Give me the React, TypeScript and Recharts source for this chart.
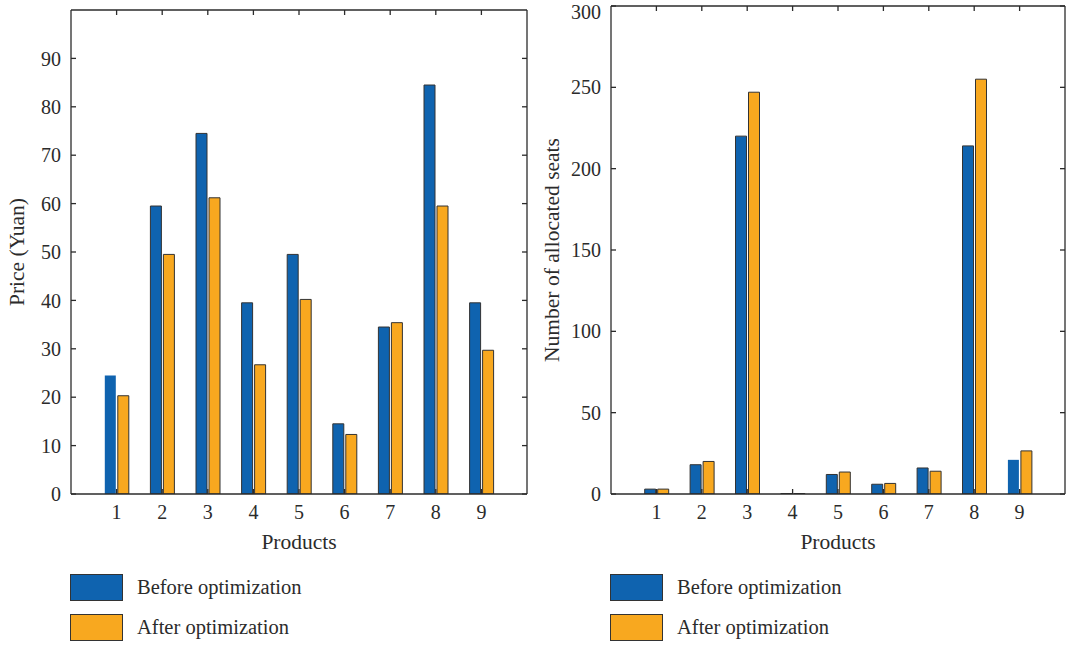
import { BarChart, Bar, XAxis, YAxis, Cell } from "recharts";

const products = ["1", "2", "3", "4", "5", "6", "7", "8", "9"];
const priceBefore = [24.5, 59.5, 74.5, 39.5, 49.5, 14.5, 34.5, 84.5, 39.5];
const priceAfter = [20.3, 49.5, 61.2, 26.7, 40.2, 12.3, 35.4, 59.5, 29.7];
const seatsBefore = [3, 18, 220, 0.3, 12, 6, 16, 214, 21];
const seatsAfter = [3, 20, 247, 0.3, 13.5, 6.5, 14, 255, 26.5];
const priceTicks = [0, 10, 20, 30, 40, 50, 60, 70, 80, 90];
const seatTicks = [0, 50, 100, 150, 200, 250, 300];

const BLUE = "#0F63AF";
const ORANGE = "#F8A81F";
const INK = "#2b2b2b";
const FONT = "Liberation Serif, Times New Roman, DejaVu Serif, serif";
const TICK = { fill: INK, fontSize: 20, fontFamily: FONT };
const blank = () => "";

type PanelProps = {
  left: number; width: number; height: number;
  yWidth: number; plotTop: number; plotRight: number;
  before: number[]; after: number[]; ticks: number[]; yMax: number;
  yLabel: string; yLabelOffset: number; noStroke: number;
};

function Panel(p: PanelProps) {
  const data = products.map((name, i) => ({ name, before: p.before[i], after: p.after[i] }));
  const plotW = p.width - p.yWidth - p.plotRight;
  const pad = plotW / 20;
  return (
    <div style={{ position: "absolute", left: p.left, top: 0 }}>
      <BarChart width={p.width} height={p.height} data={data} barSize={11} barGap={2}
        margin={{ top: p.plotTop - 1, right: p.plotRight - 1, bottom: 6, left: 0 }}>
        <XAxis xAxisId="b" dataKey="name" height={60} padding={{ left: pad, right: pad }}
          stroke={INK} strokeWidth={1.3} tick={TICK} tickSize={-5} tickMargin={16}
          label={{ value: "Products", position: "insideBottom", offset: 5, fill: INK, fontSize: 21.5, fontFamily: FONT }} />
        <XAxis xAxisId="t" dataKey="name" orientation="top" height={1} padding={{ left: pad, right: pad }}
          stroke={INK} strokeWidth={1.3} tickSize={-5} tickFormatter={blank} />
        <YAxis yAxisId="l" width={p.yWidth} domain={[0, p.yMax]} ticks={p.ticks} allowDataOverflow
          stroke={INK} strokeWidth={1.3} tick={TICK} tickSize={-5} tickMargin={15}
          label={{ value: p.yLabel, angle: -90, position: "insideLeft", offset: p.yLabelOffset, fill: INK, fontSize: 21.5, fontFamily: FONT, style: { textAnchor: "middle" } }} />
        <YAxis yAxisId="r" orientation="right" width={1} domain={[0, p.yMax]} ticks={p.ticks} allowDataOverflow
          stroke={INK} strokeWidth={1.3} tickSize={-5} tickFormatter={blank} />
        <Bar xAxisId="b" yAxisId="l" dataKey="before" fill={BLUE} stroke="#333" strokeWidth={1} isAnimationActive={false}>
          {data.map((_, i) => <Cell key={i} stroke={i === p.noStroke ? "none" : "#333"} />)}
        </Bar>
        <Bar xAxisId="b" yAxisId="l" dataKey="after" fill={ORANGE} stroke="#333" strokeWidth={1} isAnimationActive={false} />
      </BarChart>
    </div>
  );
}

function LegendBox({ left, top }: { left: number; top: number }) {
  const item = (color: string, label: string, y: number) => (
    <div style={{ position: "absolute", left: 0, top: y, display: "flex", alignItems: "center", whiteSpace: "nowrap" }}>
      <div style={{ width: 51, height: 25, background: color, border: "1px solid #333" }} />
      <span style={{ marginLeft: 14, fontSize: 20.5, color: INK, fontFamily: FONT }}>{label}</span>
    </div>
  );
  return (
    <div style={{ position: "absolute", left, top }}>
      {item(BLUE, "Before optimization", 0)}
      {item(ORANGE, "After optimization", 40)}
    </div>
  );
}

export default function App() {
  return (
    <div style={{ position: "absolute", left: 0, top: 0, width: 1066, height: 645, background: "#fff", fontFamily: FONT, overflow: "hidden" }}>
      <Panel left={0} width={540} height={560} yWidth={71} plotTop={10} plotRight={13}
        before={priceBefore} after={priceAfter} ticks={priceTicks} yMax={100}
        yLabel="Price (Yuan)" yLabelOffset={16} noStroke={0} />
      <Panel left={530} width={536} height={560} yWidth={81} plotTop={6} plotRight={1}
        before={seatsBefore} after={seatsAfter} ticks={seatTicks} yMax={300}
        yLabel="Number of allocated seats" yLabelOffset={21} noStroke={8} />
      <LegendBox left={70} top={574} />
      <LegendBox left={610} top={574} />
    </div>
  );
}
